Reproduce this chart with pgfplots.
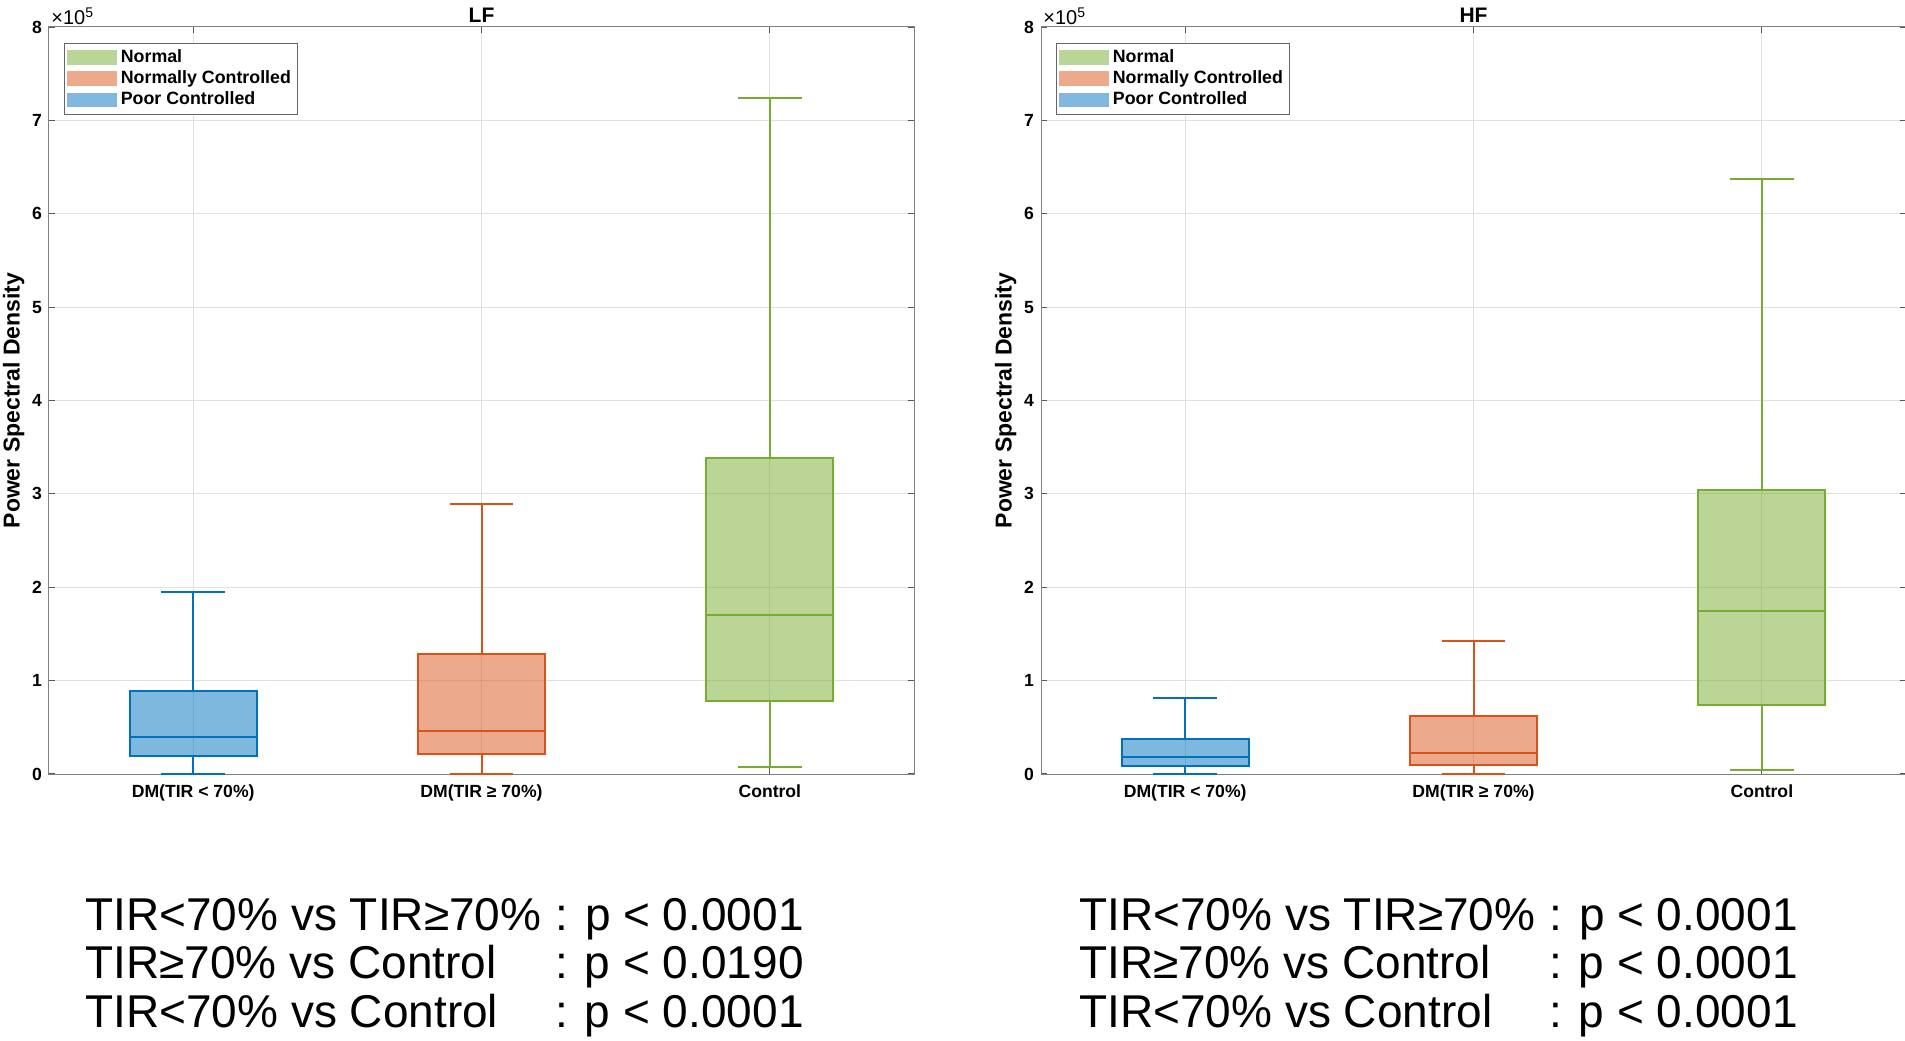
\documentclass[border=0pt]{standalone}
\usepackage{fontspec}
\setmainfont{Liberation Sans}
\usepackage{pgfplots}
\pgfplotsset{compat=1.18}
\usepgfplotslibrary{statistics}

\definecolor{mblue}{RGB}{0,114,189}
\definecolor{morange}{RGB}{217,83,25}
\definecolor{mgreen}{RGB}{119,172,48}

% values in units of 10^5
\pgfplotsset{
  psd/.style={
    scale only axis, width=432.5pt, height=373.5pt,
    xmin=0.5, xmax=3.5, ymin=0, ymax=8, clip=false,
    xtick={1,2,3},
    xticklabels={DM(TIR < 70\%), DM(TIR ≥ 70\%), Control},
    ytick={0,1,2,3,4,5,6,7,8},
    /pgf/number format/assume math mode=true,
    grid=major, grid style={black!12, line width=0.5pt},
    axis line style={black!50, line width=0.5pt},
    tick style={black!65, line width=0.6pt},
    major tick length=3pt,
    tick label style={font=\fontsize{8.8}{10.5}\bfseries\selectfont},
    xticklabel style={yshift=-2pt},
    ylabel={Power Spectral Density},
    ylabel style={font=\fontsize{11.5}{13.5}\bfseries\selectfont, yshift=-3pt},
    legend style={at={(rel axis cs:0.0173,0.979)}, anchor=north west,
      draw=black!60, line width=0.5pt, font=\fontsize{8.9}{10.5}\bfseries\selectfont,
      row sep=-1.4pt, inner sep=1.2pt},
    legend cell align=left,
    legend image code/.code={\fill[##1, draw=none] (0pt,-3.6pt) rectangle (25pt,3.6pt);},
  },
  bx/.style={line width=1pt, fill opacity=0.5,
    boxplot/draw direction=y,
    boxplot/every median/.style={line width=1pt}},
}

\begin{document}
\begin{tikzpicture}
\useasboundingbox (0,0) rectangle (952.5pt,520pt);

% ---- LF ----
\begin{axis}[psd, at={(24.5pt,133pt)}, anchor=south west]
\addlegendimage{fill=mgreen!50!white}
\addlegendentry{Normal}
\addlegendimage{fill=morange!50!white}
\addlegendentry{Normally Controlled}
\addlegendimage{fill=mblue!50!white}
\addlegendentry{Poor Controlled}
\addplot[bx, draw=mblue, fill=mblue, forget plot, boxplot prepared={
  lower whisker=0, lower quartile=0.19, median=0.40,
  upper quartile=0.89, upper whisker=1.95,
  draw position=1, box extend=0.44, whisker extend=0.22}] coordinates {};
\addplot[bx, draw=morange, fill=morange, forget plot, boxplot prepared={
  lower whisker=0, lower quartile=0.21, median=0.46,
  upper quartile=1.28, upper whisker=2.89,
  draw position=2, box extend=0.44, whisker extend=0.22}] coordinates {};
\addplot[bx, draw=mgreen, fill=mgreen, forget plot, boxplot prepared={
  lower whisker=0.07, lower quartile=0.78, median=1.70,
  upper quartile=3.38, upper whisker=7.24,
  draw position=3, box extend=0.44, whisker extend=0.22}] coordinates {};
\node[anchor=south west, inner sep=1pt, font=\fontsize{10}{12}\selectfont] at (rel axis cs:0,1) {×10\textsuperscript{5}};
\node[anchor=base, yshift=2pt, font=\fontsize{10.5}{12}\bfseries\selectfont] at (rel axis cs:0.5,1) {LF};
\end{axis}

% ---- HF ----
\begin{axis}[psd, at={(520.5pt,133pt)}, anchor=south west]
\addlegendimage{fill=mgreen!50!white}
\addlegendentry{Normal}
\addlegendimage{fill=morange!50!white}
\addlegendentry{Normally Controlled}
\addlegendimage{fill=mblue!50!white}
\addlegendentry{Poor Controlled}
\addplot[bx, draw=mblue, fill=mblue, forget plot, boxplot prepared={
  lower whisker=0, lower quartile=0.086, median=0.18,
  upper quartile=0.375, upper whisker=0.81,
  draw position=1, box extend=0.44, whisker extend=0.22}] coordinates {};
\addplot[bx, draw=morange, fill=morange, forget plot, boxplot prepared={
  lower whisker=0, lower quartile=0.10, median=0.22,
  upper quartile=0.625, upper whisker=1.42,
  draw position=2, box extend=0.44, whisker extend=0.22}] coordinates {};
\addplot[bx, draw=mgreen, fill=mgreen, forget plot, boxplot prepared={
  lower whisker=0.04, lower quartile=0.74, median=1.75,
  upper quartile=3.04, upper whisker=6.37,
  draw position=3, box extend=0.44, whisker extend=0.22}] coordinates {};
\node[anchor=south west, inner sep=1pt, font=\fontsize{10}{12}\selectfont] at (rel axis cs:0,1) {×10\textsuperscript{5}};
\node[anchor=base, yshift=2pt, font=\fontsize{10.5}{12}\bfseries\selectfont] at (rel axis cs:0.5,1) {HF};
\end{axis}

% ---- p-values ----
\node[anchor=base west, inner sep=0pt, font=\fontsize{23}{24.25}\selectfont] at (42.5pt,55pt)
  {\begin{tabular}[t]{@{}l@{\hspace{0.3em}}l@{}}
   TIR<70\% vs TIR≥70\% & : p < 0.0001\\
   TIR≥70\% vs Control & : p < 0.0190\\
   TIR<70\% vs Control & : p < 0.0001
   \end{tabular}};
\node[anchor=base west, inner sep=0pt, font=\fontsize{23}{24.25}\selectfont] at (539.5pt,55pt)
  {\begin{tabular}[t]{@{}l@{\hspace{0.3em}}l@{}}
   TIR<70\% vs TIR≥70\% & : p < 0.0001\\
   TIR≥70\% vs Control & : p < 0.0001\\
   TIR<70\% vs Control & : p < 0.0001
   \end{tabular}};
\end{tikzpicture}
\end{document}
